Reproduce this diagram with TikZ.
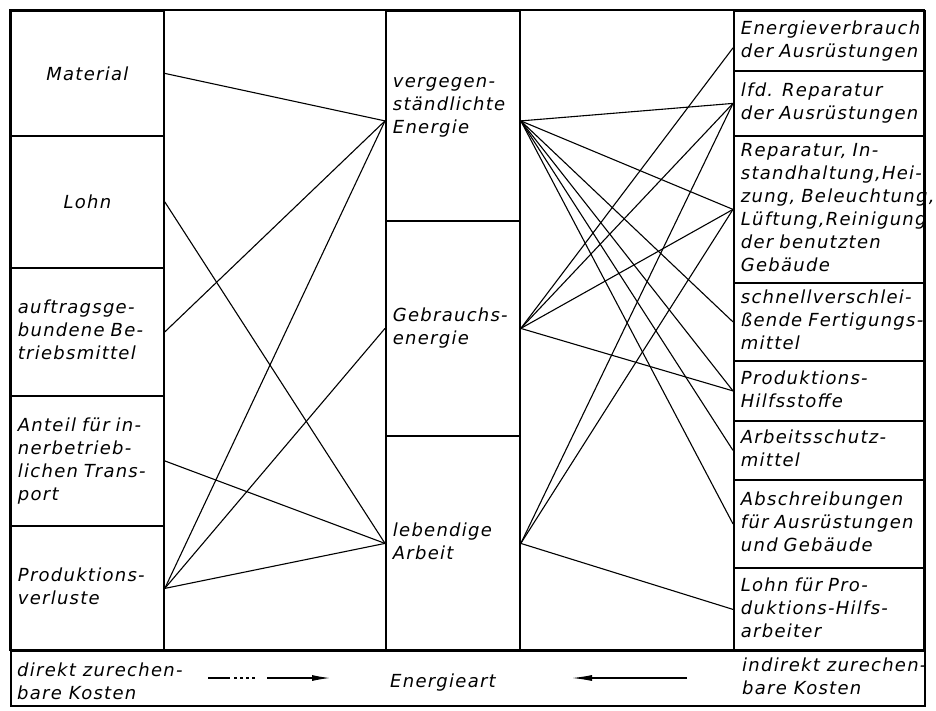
\documentclass[tikz,border=0pt]{standalone}
\usepackage{fontspec}
\usetikzlibrary{arrows.meta}
\newfontfamily\lettering{DejaVu Sans Oblique}[LetterSpace=7]
\newcommand\boxlines[1]{\begin{tabular}{@{}l@{}}#1\end{tabular}}
\tikzset{
  box/.style={draw, line width=1.8pt, anchor=north west, inner xsep=7pt, inner ysep=0pt,
    align=left, font=\lettering\fontsize{18pt}{23pt}\selectfont},
  lbox/.style={box, text width=139pt},
  mbox/.style={box, text width=120pt},
  rbox/.style={box, text width=177pt},
  note/.style={inner sep=0pt, align=left, font=\lettering\fontsize{18pt}{23pt}\selectfont},
  link/.style={line width=1.1pt}
}
\begin{document}
\begin{tikzpicture}[x=1pt,y=-1pt]
\useasboundingbox (0,0) rectangle (936,710);
\draw[line width=1.8pt] (10,10) rectangle (924,650);

% direkt zurechenbare Kosten
\node[lbox, align=center, minimum height=125] (mat) at (10,10) {Material};
\node[lbox, align=center, minimum height=132] (lohn) at (10,135) {Lohn};
\node[lbox, minimum height=128] (auf) at (10,267) {\boxlines{auftragsge-\\bundene Be-\\triebsmittel}};
\node[lbox, minimum height=130] (ant) at (10,395) {\boxlines{Anteil für in-\\nerbetrieb-\\lichen Trans-\\port}};
\node[lbox, minimum height=125] (pv) at (10,525) {\boxlines{Produktions-\\verluste}};

% Energieart
\node[mbox, minimum height=210, text depth=50pt] (veg) at (385,10) {\boxlines{vergegen-\\ständlichte\\Energie}};
\node[mbox, minimum height=215] (geb) at (385,220) {\boxlines{Gebrauchs-\\energie}};
\node[mbox, minimum height=215] (leb) at (385,435) {\boxlines{lebendige\\Arbeit}};

% indirekt zurechenbare Kosten
\node[rbox, minimum height=60] (ev) at (733,10) {\boxlines{Energieverbrauch\\der Ausrüstungen}};
\node[rbox, minimum height=65] (lfd) at (733,70) {\boxlines{lfd. Reparatur\\der Ausrüstungen}};
\node[rbox, minimum height=147] (rep) at (733,135) {\boxlines{Reparatur, In-\\standhaltung,Hei-\\zung, Beleuchtung,\\Lüftung,Reinigung\\der benutzten\\Gebäude}};
\node[rbox, minimum height=78] (snl) at (733,282) {\boxlines{schnellverschlei-\\ßende Fertigungs-\\mittel}};
\node[rbox, minimum height=60] (hst) at (733,360) {\boxlines{Produktions-\\Hilfsstoffe}};
\node[rbox, minimum height=59] (asm) at (733,420) {\boxlines{Arbeitsschutz-\\mittel}};
\node[rbox, minimum height=88] (abs) at (733,479) {\boxlines{Abschreibungen\\für Ausrüstungen\\und Gebäude}};
\node[rbox, minimum height=83] (lhf) at (733,567) {\boxlines{Lohn für Pro-\\duktions-Hilfs-\\arbeiter}};

% left links
\draw[link] (mat.east) -- ([yshift=-5pt]veg.west);
\draw[link] (lohn.east) -- (leb.west);
\draw[link] (auf.east) -- ([yshift=-5pt]veg.west);
\draw[link] (ant.east) -- (leb.west);
\draw[link] (pv.east) -- ([yshift=-5pt]veg.west);
\draw[link] (pv.east) -- (geb.west);
\draw[link] (pv.east) -- (leb.west);

% right links
\draw[link] ([yshift=-5pt]veg.east) -- (lfd.west);
\draw[link] ([yshift=-5pt]veg.east) -- (rep.west);
\draw[link] ([yshift=-5pt]veg.east) -- (snl.west);
\draw[link] ([yshift=-5pt]veg.east) -- (hst.west);
\draw[link] ([yshift=-5pt]veg.east) -- (asm.west);
\draw[link] ([yshift=-5pt]veg.east) -- (abs.west);
\draw[link] (geb.east) -- ([yshift=-7pt]ev.west);
\draw[link] (geb.east) -- (lfd.west);
\draw[link] (geb.east) -- (rep.west);
\draw[link] (geb.east) -- (hst.west);
\draw[link] (leb.east) -- (lfd.west);
\draw[link] (leb.east) -- (rep.west);
\draw[link] (leb.east) -- (lhf.west);

% bottom strip
\node[box, minimum width=914, minimum height=55] (base) at (10,650) {};
\node[note, anchor=west] (dir) at (17,683) {\boxlines{direkt zurechen-\\bare Kosten}};
\node[note] (art) at (443,683) {Energieart};
\node[note, anchor=west] (ind) at (742,678) {\boxlines{indirekt zurechen-\\bare Kosten}};
\coordinate (da) at (208,678);
\coordinate (db) at (330,678);
\coordinate (ia) at (687,678);
\coordinate (ib) at (572,678);
\draw[link, dash pattern=on 22pt off 4pt on 3pt off 3pt on 3pt off 3pt on 3pt off 3pt on 3pt off 12pt on 80pt,
  -{Latex[length=18pt,width=6pt]}] (da) -- (db);
\draw[link, -{Latex[length=20pt,width=6pt]}] (ia) -- (ib);
\end{tikzpicture}
\end{document}
